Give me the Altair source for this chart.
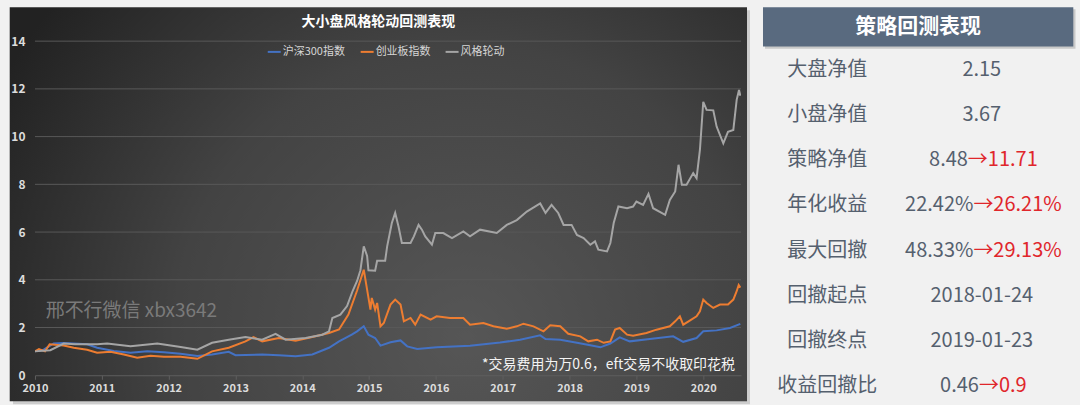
import altair as alt
import pandas as pd

# ---------------- data ----------------
series_names = ["沪深300指数", "创业板指数", "风格轮动"]
series_colors = ["#4472c4", "#ed7d31", "#a5a5a5"]

hs300_t = [2010.0, 2010.13, 2010.28, 2010.43, 2010.78, 2010.93, 2011.18, 2011.43, 2011.68, 2011.93,
           2012.18, 2012.43, 2012.65, 2012.9, 2013.0, 2013.4, 2013.65, 2013.9, 2014.15, 2014.4,
           2014.55, 2014.74, 2014.82, 2014.92, 2014.99, 2015.09, 2015.17, 2015.32,
           2015.47, 2015.57, 2015.72, 2016.01, 2016.51, 2016.96, 2017.26, 2017.56, 2017.64, 2017.86,
           2018.11, 2018.31, 2018.46, 2018.61, 2018.75, 2018.9, 2019.2, 2019.55, 2019.7, 2019.9,
           2020.0, 2020.2, 2020.4, 2020.555]
hs300_v = [1.0, 1.07, 1.33, 1.35, 1.3, 1.15, 1.02, 0.94, 1.0, 0.96,
           0.9, 0.81, 0.87, 0.98, 0.84, 0.87, 0.84, 0.8, 0.87, 1.15,
           1.42, 1.7, 1.84, 2.05, 1.7, 1.56, 1.24, 1.38,
           1.46, 1.21, 1.1, 1.17, 1.24, 1.37, 1.49, 1.67, 1.52, 1.49,
           1.36, 1.26, 1.17, 1.33, 1.59, 1.42, 1.52, 1.63, 1.4, 1.56,
           1.84, 1.88, 1.98, 2.15]

cyb_t = [2010.0, 2010.06, 2010.15, 2010.22, 2010.43, 2010.58, 2010.78, 2010.93, 2011.13, 2011.33,
         2011.53, 2011.73, 2011.93, 2012.18, 2012.43, 2012.65, 2012.9, 2013.15, 2013.27, 2013.4,
         2013.65, 2013.9, 2014.15, 2014.4, 2014.55, 2014.69, 2014.82, 2014.92, 2014.97, 2015.02,
         2015.04, 2015.09, 2015.12, 2015.17, 2015.22, 2015.32, 2015.39, 2015.47, 2015.52, 2015.62,
         2015.69, 2015.77, 2015.92, 2016.01, 2016.21, 2016.41, 2016.51, 2016.71, 2016.86, 2017.06,
         2017.21, 2017.31, 2017.46, 2017.61, 2017.71, 2017.86, 2017.98, 2018.16, 2018.28, 2018.41,
         2018.51, 2018.61, 2018.68, 2018.75, 2018.86, 2018.95, 2019.15, 2019.3, 2019.5, 2019.58,
         2019.65, 2019.7, 2019.78, 2019.9, 2019.95, 2020.0, 2020.05, 2020.15, 2020.25, 2020.37,
         2020.45, 2020.5, 2020.53, 2020.555]
cyb_v = [1.0, 1.1, 1.0, 1.3, 1.25, 1.15, 1.07, 0.94, 0.98, 0.87,
         0.73, 0.82, 0.77, 0.77, 0.69, 1.0, 1.15, 1.42, 1.6, 1.42,
         1.56, 1.45, 1.6, 1.77, 1.92, 2.54, 3.55, 4.42, 3.59, 2.75,
         3.24, 2.75, 3.03, 2.05, 2.19, 2.96, 3.17, 2.96, 2.26, 2.4,
         2.12, 2.54, 2.33, 2.47, 2.4, 2.4, 2.12, 2.19, 2.05, 1.95,
         2.05, 2.16, 2.05, 1.84, 2.09, 2.05, 1.74, 1.63, 1.42, 1.49,
         1.36, 1.42, 1.91, 1.98, 1.7, 1.66, 1.77, 1.91, 2.05, 2.26,
         2.47, 2.12, 2.26, 2.47, 2.68, 3.17, 3.03, 2.82, 2.96, 2.96,
         3.17, 3.52, 3.78, 3.67]

style_t = [2010.0, 2010.23, 2010.43, 2010.6, 2010.93, 2011.08, 2011.43, 2011.83, 2012.18, 2012.43,
           2012.65, 2012.9, 2013.15, 2013.4, 2013.6, 2013.75, 2014.05, 2014.3, 2014.4, 2014.45,
           2014.57, 2014.67, 2014.75, 2014.82, 2014.87, 2014.92, 2014.97, 2014.99,
           2015.09, 2015.12, 2015.24, 2015.27, 2015.34, 2015.39, 2015.44, 2015.49, 2015.62, 2015.67,
           2015.74, 2015.79, 2015.84, 2015.94, 2015.99, 2016.11, 2016.24, 2016.41, 2016.51, 2016.66,
           2016.91, 2017.06, 2017.21, 2017.36, 2017.56, 2017.64, 2017.73, 2017.83, 2017.91, 2018.03,
           2018.11, 2018.21, 2018.31, 2018.38, 2018.43, 2018.56, 2018.61, 2018.66, 2018.73, 2018.86,
           2018.95, 2019.0, 2019.1, 2019.18, 2019.25, 2019.43, 2019.5, 2019.58, 2019.63, 2019.68,
           2019.75, 2019.85, 2019.9, 2019.95, 2020.0, 2020.05, 2020.15, 2020.2, 2020.3, 2020.37,
           2020.45, 2020.5, 2020.535, 2020.555]
style_v = [1.0, 1.05, 1.33, 1.3, 1.3, 1.33, 1.21, 1.33, 1.18, 1.07,
           1.36, 1.49, 1.6, 1.49, 1.73, 1.49, 1.56, 1.7, 1.84, 2.4,
           2.54, 2.9, 3.5, 3.95, 4.4, 5.4, 5.0, 4.4,
           4.38, 4.8, 4.8, 5.4, 6.38, 6.8, 6.23, 5.54, 5.54, 5.82,
           6.3, 6.1, 5.82, 5.47, 5.96, 5.96, 5.75, 6.03, 5.82, 6.1,
           5.96, 6.3, 6.5, 6.86, 7.2, 6.8, 7.14, 6.8, 6.3, 6.3,
           5.88, 5.75, 5.47, 5.61, 5.26, 5.19, 5.54, 6.38, 7.07, 7.0,
           7.07, 7.28, 7.14, 7.6, 7.0, 6.72, 7.35, 7.7, 8.82, 7.98,
           7.98, 8.47, 8.26, 9.44, 11.46, 11.12, 11.1, 10.42, 9.72, 10.2,
           10.28, 11.54, 11.95, 11.71]

x_ticks = list(range(2010, 2021))
y_ticks = [0, 2, 4, 6, 8, 10, 12, 14]

chart_title = "大小盘风格轮动回测表现"
watermark = "邢不行微信 xbx3642"
footnote = "*交易费用为万0.6，eft交易不收取印花税"

tbl_header = "策略回测表现"
tbl_labels = ["大盘净值", "小盘净值", "策略净值", "年化收益", "最大回撤", "回撤起点", "回撤终点", "收益回撤比"]
tbl_base = ["2.15", "3.67", "8.48", "22.42%", "48.33%", "2018-01-24", "2019-01-23", "0.46"]
tbl_new = ["", "", "→11.71", "→26.21%", "→29.13%", "", "", "→0.9"]

# ---------------- build tables ----------------
rows = []
for name, ts, vs in zip(series_names, [hs300_t, cyb_t, style_t], [hs300_v, cyb_v, style_v]):
    for t, v in zip(ts, vs):
        rows.append({"t": t, "v": v, "s": name})
df = pd.DataFrame(rows)
grid_df = pd.DataFrame({"v": y_ticks[1:]})

FONT = "Noto Sans CJK SC"
W, H = 706.7, 334.4
one = pd.DataFrame({"a": [0]})

shadow = alt.Chart(one).mark_rect(fill="#cdcdcd").encode(
    x=alt.value(-22), x2=alt.value(W + 9), y=alt.value(-31), y2=alt.value(H + 29))
panel = alt.Chart(one).mark_rect(
    fill={"gradient": "radial", "x1": 0.62, "y1": 0.68, "r1": 0, "x2": 0.62, "y2": 0.68, "r2": 0.72,
          "stops": [{"offset": 0, "color": "#565656"}, {"offset": 0.55, "color": "#434343"},
                    {"offset": 1, "color": "#222222"}]}
).encode(x=alt.value(-25.3), x2=alt.value(W + 6), y=alt.value(-34), y2=alt.value(H + 26))

xscale = alt.Scale(domain=[2010, 2020.565], nice=False, zero=False)
yscale = alt.Scale(domain=[0, 14], nice=False)
xenc = alt.X("t:Q", scale=xscale,
             axis=alt.Axis(values=x_ticks, format="d", title=None, grid=False, zindex=1,
                           domain=True, domainColor="#5e5e5e", ticks=True, tickColor="#5e5e5e",
                           tickSize=4, labelPadding=3, labelColor="#dcdcdc", labelFont=FONT,
                           labelFontSize=11, labelFontWeight="bold", labelFlush=False))
yenc = alt.Y("v:Q", scale=yscale,
             axis=alt.Axis(values=y_ticks, title=None, grid=False, zindex=1,
                           domain=False, ticks=False, labelPadding=10,
                           labelColor="#dcdcdc", labelFont=FONT, labelFontSize=12,
                           labelFontWeight="bold"))
cenc = alt.Color("s:N", scale=alt.Scale(domain=series_names, range=series_colors),
                 legend=alt.Legend(orient="none", legendX=232, legendY=3, direction="horizontal",
                                   title=None, symbolType="stroke", symbolSize=169,
                                   symbolStrokeWidth=2, labelColor="#d6d6d6", labelFont=FONT,
                                   labelFontSize=11, labelOffset=1, columnPadding=11, padding=0,
                                   zindex=1))

grid = alt.Chart(grid_df).mark_rule(color="#585858", strokeWidth=1).encode(y=yenc)

line_layers = []
for name in series_names:
    line_layers.append(
        alt.Chart(df).transform_filter(alt.datum.s == name)
        .mark_line(strokeWidth=2, clip=True).encode(x=xenc, y=yenc, color=cenc))

title_txt = alt.Chart(one).mark_text(text=chart_title, font=FONT, fontSize=14, fontWeight="bold",
                                     color="#ffffff", align="center", baseline="middle").encode(
    x=alt.value(343.7), y=alt.value(-19.6))
wm_txt = alt.Chart(one).mark_text(text=watermark, font=FONT, fontSize=19, color="#7a7a7a",
                                  align="left", baseline="middle").encode(
    x=alt.value(10.7), y=alt.value(269.7))
fn_txt = alt.Chart(one).mark_text(text=footnote, font=FONT, fontSize=14, color="#f4f4f4",
                                  align="right", baseline="middle").encode(
    x=alt.value(700.7), y=alt.value(323.7))

left = alt.layer(shadow, panel, grid, *line_layers, title_txt, wm_txt, fn_txt).properties(width=W, height=H)

# ---------------- right table ----------------
TW, TH = 330, 361
OY = -34.3           # the table is aligned on the left panel's plot origin
LABEL_CX, VALUE_CX = 77, 231.7
FS = 20
EM = {".": 0.26, "%": 0.82, "-": 0.35, "→": 0.84}


def text_w(s):
    w = 0.0
    for c in s:
        if c.isdigit():
            w += 0.553
        elif c in EM:
            w += EM[c]
        elif ord(c) > 0x2E80:
            w += 1.0
        else:
            w += 0.55
    return w * FS


lab_rows, single_rows, gray_rows, red_rows = [], [], [], []
for i, (lab, b, n) in enumerate(zip(tbl_labels, tbl_base, tbl_new)):
    r = i + 1
    lab_rows.append({"row": r, "txt": lab, "px": LABEL_CX})
    if n:
        split = VALUE_CX + (text_w(b) - text_w(n)) / 2
        gray_rows.append({"row": r, "txt": b, "px": split})
        red_rows.append({"row": r, "txt": n, "px": split})
    else:
        single_rows.append({"row": r, "txt": b, "px": VALUE_CX})

yrow = alt.Y("row:Q", scale=alt.Scale(domain=[1, 8], range=[63 + OY, 379.7 + OY]), axis=None)


def txt_layer(rows_, align, color):
    return alt.Chart(pd.DataFrame(rows_)).mark_text(
        font=FONT, fontSize=FS, color=color, align=align, baseline="middle").encode(
        x=alt.X("px:Q", scale=None), y=yrow, text="txt:N")


hdr_shadow = alt.Chart(one).mark_rect(fill="#c9c9c9").encode(
    x=alt.value(14.7), x2=alt.value(325.5), y=alt.value(2.3 + OY), y2=alt.value(42 + OY))
hdr = alt.Chart(one).mark_rect(fill="#596a7f").encode(
    x=alt.value(12.7), x2=alt.value(323.3), y=alt.value(0.3 + OY), y2=alt.value(39.7 + OY))
hdr_txt = alt.Chart(one).mark_text(text=tbl_header, font=FONT, fontSize=21, fontWeight="bold",
                                   color="#ffffff", align="center", baseline="middle").encode(
    x=alt.value(168), y=alt.value(20.5 + OY))

right = alt.layer(
    hdr_shadow, hdr, hdr_txt,
    txt_layer(lab_rows, "center", "#55606e"),
    txt_layer(single_rows, "center", "#55606e"),
    txt_layer(gray_rows, "right", "#55606e"),
    txt_layer(red_rows, "left", "#e0262b"),
).properties(width=TW, height=TH)

chart = alt.hconcat(left, right, spacing=0).properties(
    padding={"left": 9, "top": 7, "right": 0, "bottom": 0}
).configure(background="#f1f1f1").configure_view(stroke=None)

chart.save("out.html", embed_options={"renderer": "svg", "actions": False})
